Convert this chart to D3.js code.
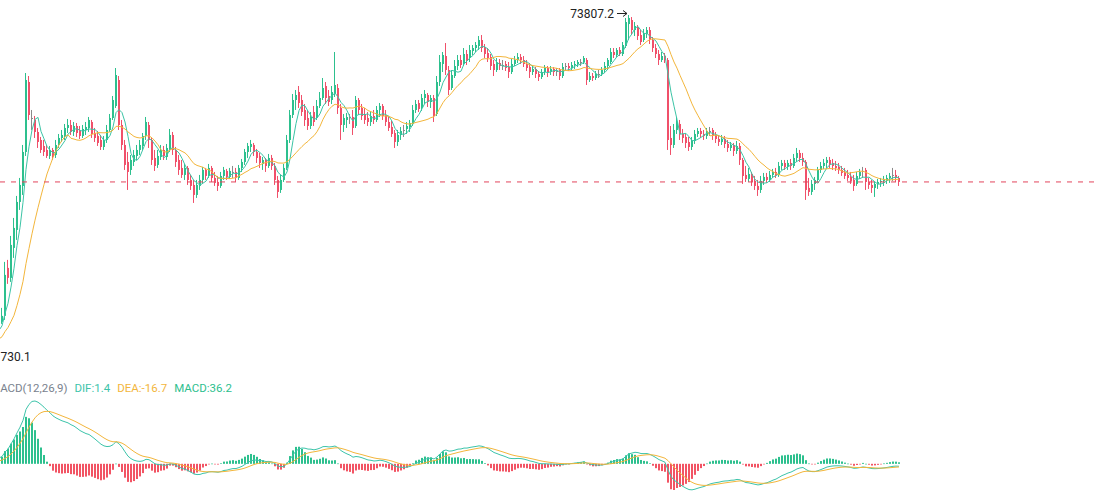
<!DOCTYPE html>
<html><head><meta charset="utf-8">
<script src="https://cdn.jsdelivr.net/npm/d3@7"></script>
<style>
html,body{margin:0;padding:0;background:#fff;overflow:hidden}
svg{display:block;font-family:Roboto,"Helvetica Neue",Arial,sans-serif}
</style></head><body>
<svg id="chart" width="1100" height="498"></svg>
<script>
// candles (first 10 lie left of the visible window)
const opens = [
71827,71797,71785,71821,71809,71845,71869,71881,71917,71941,
71965,72001,72289,72229,72409,72517,72685,72781,72985,73405,
73189,73177,73105,73057,73021,72997,72961,72997,72967,73027,
73069,73081,73129,73147,73105,73141,73111,73081,73117,73129,
73165,73099,73081,73057,73015,73057,73117,73189,73261,73417,
73147,73027,72925,72877,72925,72961,72997,73021,73081,73147,
73057,72949,72907,72955,72997,72955,72997,73087,72997,72937,
72889,72847,72889,72817,72787,72727,72781,72817,72877,72841,
72889,72829,72805,72781,72841,72871,72835,72865,72865,72829,
72889,72925,72985,73015,73027,72985,72961,72913,72937,72901,
72949,72901,72817,72757,72817,72889,73057,73207,73297,73345,
73297,73237,73189,73141,73225,73189,73261,73309,73381,73321,
73297,73333,73369,73249,73147,73177,73195,73195,73141,73297,
73249,73213,73189,73165,73201,73177,73237,73261,73207,73165,
73135,73099,73045,73087,73117,73123,73135,73153,73237,73279,
73249,73309,73327,73285,73309,73213,73405,73513,73561,73477,
73369,73441,73501,73537,73513,73573,73549,73591,73609,73621,
73657,73615,73579,73555,73513,73477,73519,73507,73513,73495,
73465,73513,73537,73555,73537,73513,73495,73465,73483,73453,
73435,73465,73489,73465,73483,73471,73477,73441,73501,73501,
73489,73507,73513,73525,73525,73537,73417,73441,73429,73453,
73453,73477,73501,73525,73585,73567,73597,73573,73621,73753,
73777,73717,73735,73687,73657,73693,73717,73657,73609,73573,
73537,73561,73537,73069,73027,73117,73153,73093,73075,73045,
73015,73051,73093,73111,73093,73081,73111,73117,73087,73063,
73045,73063,73033,73009,73027,72991,73021,72937,72847,72823,
72853,72811,72781,72757,72811,72835,72817,72847,72865,72847,
72901,72919,72895,72919,72901,72949,72979,72949,72925,72769,
72745,72793,72817,72877,72901,72919,72937,72919,72901,72895,
72877,72865,72847,72835,72817,72793,72841,72871,72877,72805,
72787,72769,72793,72805,72811,72817,72829,72847,72847,72829];
const highs = [
71845,71827,71839,71857,71869,71899,71917,71941,71965,71989,
72049,72325,72337,72481,72589,72721,72829,73027,73459,73441,
73237,73201,73129,73075,73057,73027,73021,73009,73057,73093,
73117,73153,73183,73177,73165,73159,73141,73147,73165,73195,
73177,73129,73111,73087,73081,73147,73213,73321,73489,73441,
73177,73057,72985,72967,72997,73027,73057,73099,73195,73165,
73069,72997,72997,73027,73021,73033,73123,73105,73015,72967,
72937,72913,72901,72847,72817,72817,72847,72895,72889,72913,
72901,72865,72841,72865,72895,72883,72889,72901,72889,72907,
72943,73003,73039,73057,73039,73003,72979,72955,72949,72973,
72967,72919,72841,72847,72913,73087,73237,73333,73357,73381,
73327,73273,73237,73225,73261,73297,73345,73429,73405,73357,
73381,73585,73393,73273,73213,73219,73213,73237,73321,73309,
73273,73249,73225,73225,73237,73261,73279,73273,73237,73201,
73171,73117,73117,73135,73147,73165,73177,73267,73297,73297,
73333,73357,73339,73327,73327,73441,73567,73585,73639,73501,
73477,73537,73567,73567,73609,73597,73627,73627,73645,73681,
73687,73633,73609,73573,73537,73549,73543,73537,73531,73525,
73543,73561,73579,73573,73561,73537,73519,73501,73495,73471,
73483,73507,73501,73501,73495,73489,73489,73519,73519,73519,
73525,73531,73537,73543,73561,73549,73465,73459,73471,73477,
73495,73525,73549,73609,73609,73609,73615,73645,73789,73807.2,
73795,73765,73747,73717,73723,73735,73735,73675,73633,73597,
73585,73579,73549,73141,73153,73195,73177,73123,73093,73075,
73075,73117,73129,73129,73117,73129,73135,73129,73105,73087,
73087,73081,73057,73045,73039,73051,73039,72949,72901,72889,
72865,72841,72817,72841,72859,72859,72871,72883,72889,72925,
72937,72937,72937,72943,72973,73009,72997,72979,72937,72829,
72817,72835,72895,72925,72943,72955,72955,72943,72931,72919,
72901,72889,72877,72865,72847,72865,72883,72895,72889,72829,
72817,72805,72823,72829,72841,72847,72859,72889,72877,72841];
const lows = [
71730.1,71761,71767,71785,71797,71821,71845,71857,71893,71917,
71953,71977,72193,72205,72349,72457,72637,72727,72961,73177,
73117,73069,73009,72979,72961,72949,72943,72937,72949,73009,
73045,73057,73099,73087,73081,73075,73063,73069,73087,73105,
73069,73045,73021,72997,72997,73039,73105,73177,73249,73117,
72997,72877,72757,72847,72901,72937,72967,72997,73057,73009,
72907,72871,72889,72937,72937,72937,72985,72967,72895,72847,
72829,72817,72787,72757,72679,72709,72757,72799,72817,72829,
72805,72781,72751,72769,72817,72817,72823,72829,72805,72817,
72865,72907,72949,72985,72961,72919,72889,72877,72865,72889,
72877,72787,72709,72739,72805,72877,73039,73189,73237,73249,
73201,73141,73117,73123,73141,73177,73249,73297,73273,73261,
73273,73315,73213,73057,73105,73129,73153,73087,73129,73207,
73177,73153,73141,73141,73153,73165,73195,73177,73141,73111,
73075,73009,73021,73057,73075,73093,73105,73141,73219,73225,
73231,73273,73255,73249,73165,73201,73381,73465,73447,73327,
73357,73429,73477,73489,73501,73507,73525,73567,73585,73597,
73585,73549,73525,73477,73441,73465,73477,73477,73471,73429,
73453,73501,73519,73513,73495,73471,73429,73447,73429,73411,
73423,73447,73435,73447,73441,73441,73417,73429,73477,73471,
73477,73483,73495,73501,73513,73387,73405,73411,73417,73429,
73441,73459,73477,73513,73549,73555,73561,73561,73609,73657,
73693,73681,73657,73627,73645,73669,73633,73585,73549,73507,
73525,73519,72997,72967,73009,73093,73057,73039,73009,72991,
72997,73033,73075,73069,73057,73063,73081,73057,73039,73021,
73027,73009,72985,72991,72961,72973,72907,72793,72805,72805,
72781,72757,72721,72739,72787,72799,72805,72829,72829,72835,
72877,72877,72877,72877,72889,72925,72925,72901,72697,72721,
72727,72757,72805,72859,72883,72889,72889,72877,72871,72853,
72841,72823,72811,72793,72751,72781,72823,72829,72757,72763,
72739,72715,72763,72775,72781,72793,72799,72811,72805,72781];
const closes = [
71797,71785,71821,71809,71845,71869,71881,71917,71941,71965,
72001,72247,72229,72427,72529,72685,72787,72985,73417,73207,
73189,73105,73045,72997,72985,72961,72997,72955,73027,73069,
73087,73129,73147,73105,73141,73099,73081,73123,73135,73177,
73093,73069,73039,73015,73057,73117,73189,73297,73447,73147,
73027,72907,72865,72937,72967,72997,73027,73081,73165,73057,
72937,72901,72961,72997,72961,73009,73087,72997,72925,72877,
72847,72889,72817,72781,72727,72787,72817,72877,72841,72889,
72829,72799,72781,72841,72877,72835,72871,72865,72829,72889,
72925,72985,73021,73033,72985,72949,72919,72937,72901,72949,
72901,72817,72745,72817,72889,73057,73207,73297,73327,73279,
73225,73177,73141,73195,73165,73261,73309,73369,73309,73285,
73345,73387,73249,73147,73189,73195,73195,73129,73297,73237,
73201,73177,73165,73201,73177,73237,73261,73201,73165,73129,
73093,73045,73087,73111,73117,73141,73159,73237,73273,73243,
73309,73333,73285,73309,73201,73405,73525,73567,73477,73357,
73447,73501,73537,73507,73573,73537,73597,73609,73627,73657,
73609,73573,73549,73501,73477,73519,73501,73507,73489,73465,
73513,73537,73555,73537,73513,73489,73465,73483,73453,73435,
73465,73489,73465,73483,73465,73471,73441,73495,73501,73489,
73507,73513,73525,73525,73549,73417,73441,73429,73453,73453,
73477,73501,73537,73585,73567,73597,73573,73627,73765,73789,
73717,73741,73681,73645,73699,73717,73657,73609,73573,73537,
73561,73537,73057,73027,73117,73165,73093,73069,73039,73015,
73051,73093,73111,73093,73081,73111,73111,73081,73063,73045,
73063,73033,73009,73027,72991,73021,72937,72841,72823,72853,
72805,72781,72757,72811,72835,72817,72847,72865,72847,72901,
72919,72895,72919,72901,72949,72979,72949,72925,72757,72745,
72793,72817,72877,72901,72919,72937,72913,72901,72889,72877,
72859,72841,72829,72811,72781,72841,72865,72871,72805,72787,
72769,72793,72805,72811,72823,72829,72841,72847,72829,72805];

const hiddenBars = 10;            // bars left of the visible window
const maPeriods = [5, 15];
const macdParams = [12, 26, 9];
const macdLegend = ["MACD(12,26,9)", "DIF:1.4", "DEA:-16.7", "MACD:36.2"];

const C = {
  up: "#2DC08E", down: "#F0506A", flat: "#8A8A8A",
  ma: ["#3CC4A6", "#F3B63C"],
  dif: "#3CC4AA", dea: "#F3B63C",
  barUp: "#2DC08E", barDown: "#F25464",
  legend: ["#7A828E", "#3CC4AA", "#F3B63C", "#2DC08E"],
  mark: "#222", lastLine: "#E2445C"
};

const n = closes.length;
const svg = d3.select("#chart");

const x = d3.scaleLinear().domain([hiddenBars, n - 1]).range([2, 899]);
const maxHigh = d3.max(highs), minLow = d3.min(lows);
const y = d3.scaleLinear().domain([minLow, maxHigh]).range([361, 15]);

const idx = d3.range(n);
const colorOf = i => closes[i] > opens[i] ? C.up : closes[i] < opens[i] ? C.down : C.flat;

// candles
const g = svg.append("g");
g.selectAll("line.wick").data(idx).join("line")
  .attr("x1", i => x(i) - 0.5).attr("x2", i => x(i) - 0.5)
  .attr("y1", i => y(highs[i])).attr("y2", i => y(lows[i]))
  .attr("stroke", colorOf).attr("stroke-width", 1);
g.selectAll("rect.body").data(idx).join("rect")
  .attr("x", i => x(i) - 1).attr("width", 2)
  .attr("y", i => y(Math.max(opens[i], closes[i])))
  .attr("height", i => Math.max(1, Math.abs(y(opens[i]) - y(closes[i]))))
  .attr("fill", colorOf);

// moving averages
function sma(p) {
  return closes.map((c, i) => d3.mean(closes.slice(Math.max(0, i - p + 1), i + 1)));
}
maPeriods.forEach((p, j) => {
  const vals = sma(p);
  svg.append("path").datum(idx)
    .attr("fill", "none").attr("stroke", C.ma[j]).attr("stroke-width", 1)
    .attr("d", d3.line().x(i => x(i)).y(i => y(vals[i])));
});

// last price line
const lastY = y(closes[n - 1]);
svg.append("line").attr("x1", 0).attr("x2", 1100).attr("y1", lastY).attr("y2", lastY)
  .attr("stroke", C.lastLine).attr("stroke-width", 1).attr("stroke-dasharray", "5,6");

// high / low marks
const hiIdx = highs.indexOf(maxHigh), loIdx = lows.indexOf(minLow);
function arrow(x1, x2, yy) {
  const dir = Math.sign(x2 - x1);
  svg.append("line").attr("x1", x1).attr("x2", x2).attr("y1", yy).attr("y2", yy)
    .attr("stroke", C.mark).attr("stroke-width", 1);
  svg.append("path").attr("d", `M${x2},${yy} l${-dir*4},-3 M${x2},${yy} l${-dir*4},3`)
    .attr("stroke", C.mark).attr("fill", "none").attr("stroke-width", 1);
}
const hx = x(hiIdx), hy = y(maxHigh) - 1.5;
arrow(hx - 12, hx - 2, hy);
svg.append("text").attr("x", hx - 15).attr("y", hy).attr("dy", "0.35em")
  .attr("text-anchor", "end").attr("font-size", 12).attr("fill", C.mark)
  .text(d3.format(".1f")(maxHigh));
const lx = x(loIdx), ly = y(minLow) - 4;
arrow(lx + 12, lx + 2, ly);
svg.append("text").attr("x", lx + 15).attr("y", ly).attr("dy", "0.35em")
  .attr("text-anchor", "start").attr("font-size", 12).attr("fill", C.mark)
  .text(d3.format(".1f")(minLow));

// MACD
const [sp, lp, sg] = macdParams;
let eS = closes[0], eL = closes[0], dea = 0;
const dif = [], deaA = [], hist = [];
closes.forEach((c, i) => {
  if (i > 0) { eS = (2 * c + (sp - 1) * eS) / (sp + 1); eL = (2 * c + (lp - 1) * eL) / (lp + 1); }
  const d = eS - eL;
  dea = i === 0 ? d : (2 * d + (sg - 1) * dea) / (sg + 1);
  dif.push(d); deaA.push(dea); hist.push(2 * (d - dea));
});
const vis = idx.filter(i => i >= hiddenBars);
const allV = vis.flatMap(i => [dif[i], deaA[i], hist[i]]);
const ym = d3.scaleLinear().domain(d3.extent(allV)).range([490, 401]);
const y0 = ym(0);
svg.append("g").selectAll("rect").data(idx).join("rect")
  .attr("x", i => x(i) - 1).attr("width", 2)
  .attr("y", i => Math.min(y0, ym(hist[i])))
  .attr("height", i => Math.max(0.6, Math.abs(ym(hist[i]) - y0)))
  .attr("fill", i => hist[i] >= 0 ? C.barUp : C.barDown);
[[dif, C.dif], [deaA, C.dea]].forEach(([arr, col]) => {
  svg.append("path").datum(idx).attr("fill", "none").attr("stroke", col).attr("stroke-width", 1)
    .attr("d", d3.line().x(i => x(i)).y(i => ym(arr[i])));
});

// MACD legend (first letter falls just outside the left edge, as in the source)
let lxp = -10;
macdLegend.forEach((t, j) => {
  const tx = svg.append("text").attr("x", lxp).attr("y", 388).attr("dy", "0.35em")
    .attr("font-size", 11.5).attr("fill", C.legend[j]).text(t);
  lxp += tx.node().getComputedTextLength() + 7;
});
</script>
</body></html>
